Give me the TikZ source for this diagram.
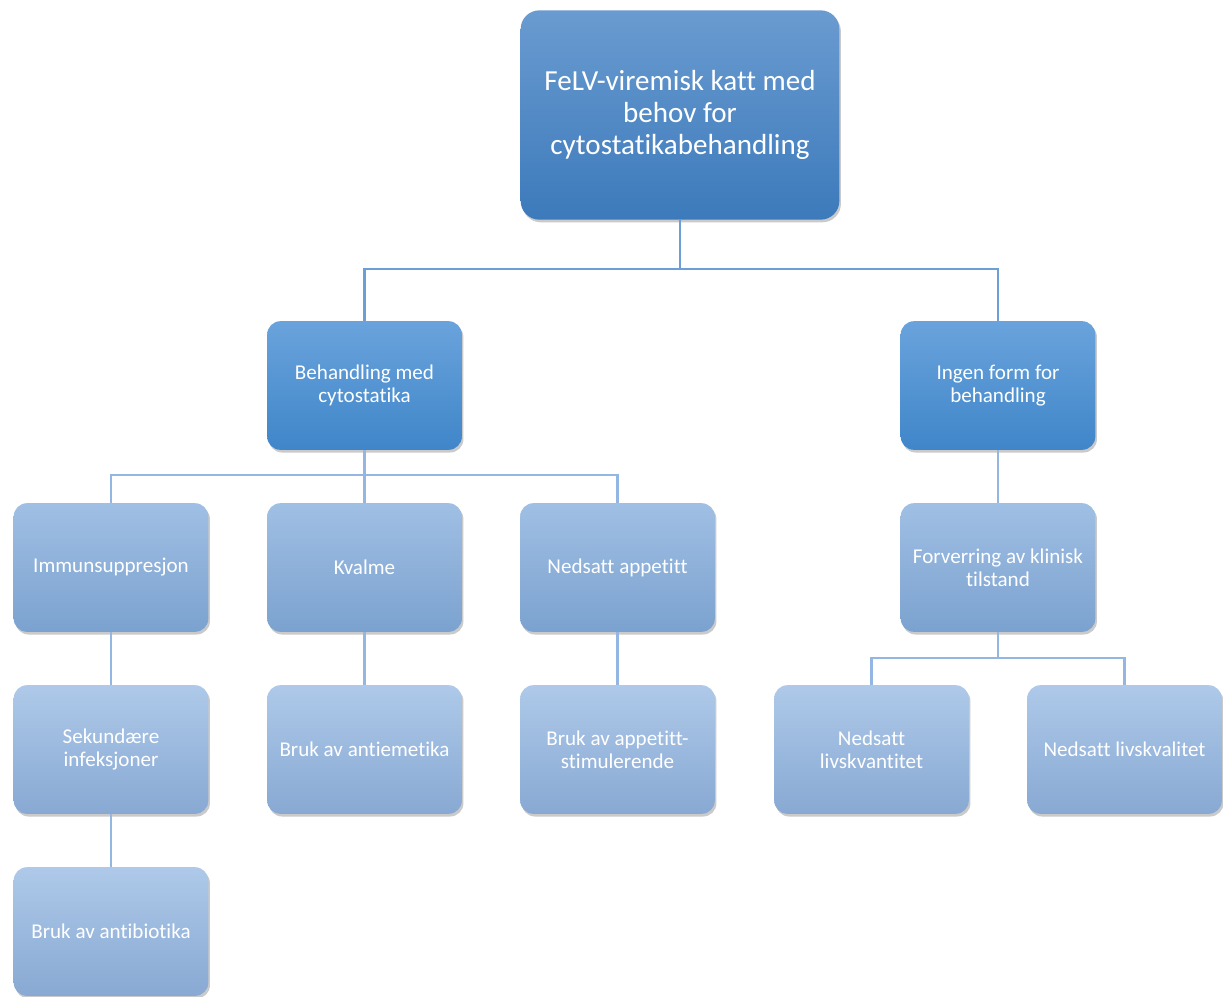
\documentclass[tikz,border=0pt]{standalone}
\usepackage{fontspec}
\setmainfont{Carlito}[Ligatures={NoCommon}]
\usetikzlibrary{shadows,calc}
\definecolor{topA}{HTML}{6A9BD0}
\definecolor{topB}{HTML}{3C7ABB}
\definecolor{midA}{HTML}{6AA3DC}
\definecolor{midB}{HTML}{3F86C9}
\definecolor{lowA}{HTML}{A0BFE4}
\definecolor{lowB}{HTML}{7BA2CF}
\definecolor{lstA}{HTML}{AEC9E9}
\definecolor{lstB}{HTML}{88A9D3}
\definecolor{lineA}{HTML}{6C9FD7}
\definecolor{lineB}{HTML}{93B6E2}
\tikzset{
  box/.style={rounded corners=10pt, minimum width=146pt, minimum height=96.5pt,
    text=white, align=center, font=\fontsize{15.8}{17.5}\selectfont,
    drop shadow={shadow xshift=1.2pt, shadow yshift=-2pt, opacity=0.35, fill=black!60}},
  topbox/.style={box, rounded corners=14pt, minimum width=239pt, minimum height=157pt,
    top color=topA, bottom color=topB, font=\fontsize{21.8}{24.3}\selectfont},
  midbox/.style={box, top color=midA, bottom color=midB},
  lowbox/.style={box, top color=lowA, bottom color=lowB},
  lstbox/.style={box, top color=lstA, bottom color=lstB},
  conA/.style={draw=lineA, line width=1.6pt},
  conB/.style={draw=lineB, line width=1.6pt},
}
\begin{document}
\begin{tikzpicture}[x=0.75pt,y=-0.75pt]
\useasboundingbox (0,0) rectangle (1223,996);
\coordinate (bus1) at (0,269);
\coordinate (bus2) at (0,475);
\coordinate (bus3) at (0,658);
\node[topbox] (top) at (680,115) {FeLV-viremisk katt med\\behov for\\cytostatikabehandling};
\node[midbox] (beh) at (364.5,385.5) {Behandling med\\cytostatika};
\node[midbox] (ing) at (998,385.5) {Ingen form for\\behandling};
\node[lowbox] (imm) at (111,567.5) {Immunsuppresjon};
\node[lowbox] (kva) at (364.5,567.5) {Kvalme};
\node[lowbox] (app) at (617.5,567.5) {Nedsatt appetitt};
\node[lowbox] (for) at (998,567.5) {Forverring av klinisk\\tilstand};
\node[lstbox] (sek) at (111,749.5) {Sekundære\\infeksjoner};
\node[lstbox] (ant) at (364.5,749.5) {Bruk av antiemetika};
\node[lstbox] (aps) at (617.5,749.5) {Bruk av appetitt-\\stimulerende};
\node[lstbox] (lkn) at (871.5,749.5) {Nedsatt\\livskvantitet};
\node[lstbox] (lkl) at (1124.5,749.5) {Nedsatt livskvalitet};
\node[lstbox] (abi) at (111,931.5) {Bruk av antibiotika};
\draw[conA] (top.south) -- (top.south |- bus1) -| (beh.north);
\draw[conA] (top.south |- bus1) -| (ing.north);
\draw[conB] (beh.south) -- (beh.south |- bus2) -| (imm.north);
\draw[conB] (beh.south |- bus2) -| (app.north);
\draw[conB] (beh.south) -- (kva.north);
\draw[conB] (ing.south) -- (for.north);
\draw[conB] (imm.south) -- (sek.north);
\draw[conB] (kva.south) -- (ant.north);
\draw[conB] (app.south) -- (aps.north);
\draw[conB] (for.south) -- (for.south |- bus3) -| (lkn.north);
\draw[conB] (for.south |- bus3) -| (lkl.north);
\draw[conB] (sek.south) -- (abi.north);
\end{tikzpicture}
\end{document}
